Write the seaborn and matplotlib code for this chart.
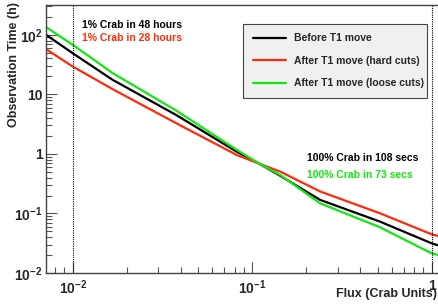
import numpy as np
import pandas as pd
import matplotlib
matplotlib.use("Agg")
import matplotlib.pyplot as plt
from matplotlib.ticker import LogLocator, FixedLocator, FixedFormatter, NullFormatter
import seaborn as sns

# values (flux in Crab units, time in hours)
flux = [0.0071, 0.01, 0.0167, 0.0377, 0.082, 0.11, 0.143, 0.239, 0.515, 1.0, 1.085]
t_before = [100, 49, 17.5, 4.5, 1.09, 0.68, 0.43, 0.169, 0.073, 0.0315, 0.0292]
t_hard = [57.5, 29.3, 12.2, 3.28, 0.96, 0.68, 0.505, 0.234, 0.1007, 0.0447, 0.0419]
t_loose = [134.6, 67.9, 22.7, 5.35, 1.17, 0.68, 0.444, 0.148, 0.0586, 0.0214, 0.0201]

series = ["Before T1 move", "After T1 move (hard cuts)", "After T1 move (loose cuts)"]
colors = ["#000000", "#ff2a0a", "#10e810"]

df = pd.concat([
    pd.DataFrame({"flux": flux, "time": t_before, "series": series[0]}),
    pd.DataFrame({"flux": flux, "time": t_hard, "series": series[1]}),
    pd.DataFrame({"flux": flux, "time": t_loose, "series": series[2]}),
])

sns.set_style("ticks")
plt.rcParams["font.family"] = ["Liberation Sans", "DejaVu Sans"]
plt.rcParams["font.weight"] = "bold"
plt.rcParams["mathtext.fontset"] = "custom"
plt.rcParams["mathtext.rm"] = "Liberation Sans:bold"
plt.rcParams["mathtext.bf"] = "Liberation Sans:bold"
plt.rcParams["mathtext.it"] = "Liberation Sans:bold"

fig = plt.figure(figsize=(4.38, 3.04), dpi=100)
ax = fig.add_axes([46 / 438, 31 / 304, 392 / 438, 268 / 304])

sns.lineplot(data=df, x="flux", y="time", hue="series", palette=colors,
             hue_order=series, linewidth=1.6, ax=ax, sort=False, estimator=None)

ax.set_xscale("log")
ax.set_yscale("log")
ax.set_xlim(0.0071, 1.085)
ax.set_ylim(0.01, 316)

# dotted markers at 1% and 100% Crab
for xv in [0.01, 1.0]:
    ax.axvline(xv, color="black", linestyle=(0, (1, 1)), linewidth=0.8)

ax.xaxis.set_major_locator(FixedLocator([0.01, 0.1, 1]))
ax.xaxis.set_major_formatter(FixedFormatter(["$10^{-2}$", "$10^{-1}$", "1"]))
ax.yaxis.set_major_locator(FixedLocator([0.01, 0.1, 1, 10, 100]))
ax.yaxis.set_major_formatter(FixedFormatter(["$10^{-2}$", "$10^{-1}$", "1", "10", "$10^{2}$"]))
ax.xaxis.set_minor_locator(LogLocator(base=10, subs=np.arange(2, 10)))
ax.yaxis.set_minor_locator(LogLocator(base=10, subs=np.arange(2, 10)))
ax.xaxis.set_minor_formatter(NullFormatter())
ax.yaxis.set_minor_formatter(NullFormatter())

ax.tick_params(which="both", direction="in", top=False, right=False,
               color="#555555", labelsize=10)
ax.tick_params(which="major", length=8, width=0.8)
ax.tick_params(axis="y", which="major", pad=2.5)
ax.tick_params(axis="x", which="major", pad=4)
ax.tick_params(which="minor", length=4, width=0.8)
ax.spines["right"].set_visible(False)
for s in ["left", "bottom", "top"]:
    ax.spines[s].set_color("#444444")
    ax.spines[s].set_linewidth(1.0)

ax.set_xlabel("")
ax.set_ylabel("")
fig.text(14 / 438, 1 - 2 / 304, "Observation Time (h)", rotation=90,
         ha="center", va="top", fontsize=9, fontweight="bold")
fig.text(437 / 438, 1 - 294 / 304, "Flux (Crab Units)", ha="right",
         va="center", fontsize=9, fontweight="bold")

# annotations
ax.text(0.0113, 10 ** (2 + (35 - 25) / 59.5), "1% Crab in 48 hours",
        color="black", fontsize=7.5, fontweight="bold", va="center")
ax.text(0.0113, 10 ** (2 + (35 - 38) / 59.5), "1% Crab in 28 hours",
        color=colors[1], fontsize=7.5, fontweight="bold", va="center")
ax.text(0.202, 10 ** (-2 + (273 - 158) / 59.5), "100% Crab in 108 secs",
        color="black", fontsize=7.5, fontweight="bold", va="center")
ax.text(0.202, 10 ** (-2 + (273 - 175) / 59.5), "100% Crab in 73 secs",
        color=colors[2], fontsize=7.5, fontweight="bold", va="center")

handles, labels = ax.get_legend_handles_labels()
leg = ax.legend(handles, labels, loc="upper left",
                bbox_to_anchor=(0.503, 0.929, 0.469, 0.0), mode="expand",
                fontsize=7.5, frameon=True, fancybox=False, framealpha=1,
                facecolor="#f0f0f0", edgecolor="#444444",
                handlelength=3.2, handletextpad=0.8, labelspacing=1.2,
                borderpad=0.9, borderaxespad=0)
leg.get_frame().set_linewidth(0.8)
for h in leg.get_lines():
    h.set_linewidth(1.6)

fig.savefig("out.png", dpi=100)
